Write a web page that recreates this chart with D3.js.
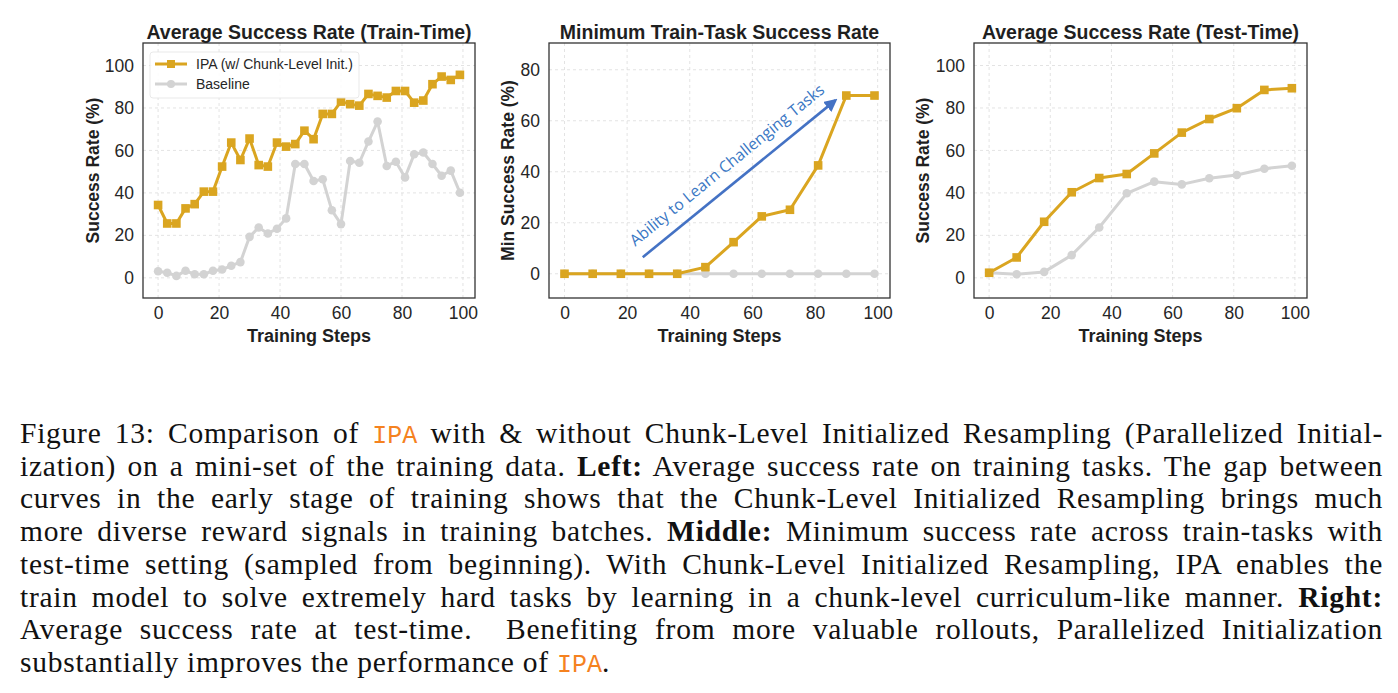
<!DOCTYPE html>
<html>
<head>
<meta charset="utf-8">
<script src="https://cdn.jsdelivr.net/npm/d3@7"></script>
<style>
  body { margin: 0; background: #fff; }
  svg { display: block; }
</style>
</head>
<body>
<svg id="fig" width="1398" height="693"></svg>
<script>
// ---- data ----
var trainSteps = [0, 3, 6, 9, 12, 15, 18, 21, 24, 27, 30, 33, 36, 39, 42, 45, 48, 51,
                  54, 57, 60, 63, 66, 69, 72, 75, 78, 81, 84, 87, 90, 93, 96, 99];
var trainIPA = [34.3, 25.6, 25.6, 32.7, 34.7, 40.6, 40.6, 52.4, 63.7, 55.5, 65.6, 53.1,
                52.4, 63.7, 61.8, 63, 69.3, 65.3, 77.2, 77.2, 83, 81.8, 81.1, 86.6,
                85.7, 84.9, 88, 88, 82.5, 83.5, 91.2, 94.8, 93.2, 95.6];
var trainBase = [3.1, 2.4, 0.9, 3.3, 1.7, 1.7, 3.3, 3.9, 5.7, 7.4, 19.3, 23.7, 20.9,
                 23.1, 28, 53.6, 53.6, 45.6, 46.4, 31.8, 25.3, 55, 54.2, 64.2, 73.6,
                 52.7, 54.7, 47.3, 58.2, 59, 53.6, 48.1, 50.5, 40.1];

var evalSteps = [0, 9, 18, 27, 36, 45, 54, 63, 72, 81, 90, 99];
var minIPA  = [0, 0, 0, 0, 0, 2.6, 12.4, 22.5, 25.1, 42.5, 69.9, 69.9];
var minBase = [0, 0, 0, 0, 0, 0, 0, 0, 0, 0, 0, 0];
var testIPA  = [2.4, 9.6, 26.4, 40.3, 47, 48.9, 58.6, 68.4, 74.8, 79.9, 88.5, 89.3];
var testBase = [2.4, 1.7, 2.8, 10.7, 23.7, 39.8, 45.3, 44, 46.9, 48.4, 51.4, 52.8];

var xTicks = [0, 20, 40, 60, 80, 100];
var yTicksAvg = [0, 20, 40, 60, 80, 100];
var yTicksMin = [0, 20, 40, 60, 80];

var legendLabels = ["IPA (w/ Chunk-Level Init.)", "Baseline"];
var arrowFrom = [25, 6.5], arrowTo = [86.5, 68];
var arrowText = "Ability to Learn Challenging Tasks", arrowTextAt = [53, 41];

const IPA_COLOR = "#DAA520";
const BASE_COLOR = "#D3D3D3";
const FONT = "'Liberation Sans', Arial, sans-serif";

var svg = d3.select("#fig");

var panels = [
  {x0: 143, x1: 475, title: "Average Success Rate (Train-Time)", ylab: "Success Rate (%)", ylabOff: 50,
   ydom: [-9.5, 110.6], yticks: yTicksAvg, steps: trainSteps, ipa: trainIPA, base: trainBase, legend: true},
  {x0: 549, x1: 890, title: "Minimum Train-Task Success Rate", ylab: "Min Success Rate (%)", ylabOff: 41,
   ydom: [-9.5, 90.5], yticks: yTicksMin, steps: evalSteps, ipa: minIPA, base: minBase, arrow: true},
  {x0: 974, x1: 1307, title: "Average Success Rate (Test-Time)", ylab: "Success Rate (%)", ylabOff: 51,
   ydom: [-9.5, 110.6], yticks: yTicksAvg, steps: evalSteps, ipa: testIPA, base: testBase}
];
var plotTop = 43, plotBottom = 298;

svg.append("defs").append("marker")
    .attr("id", "head")
    .attr("viewBox", "0 0 10 10")
    .attr("refX", 8).attr("refY", 5)
    .attr("markerWidth", 5).attr("markerHeight", 5)
    .attr("markerUnits", "strokeWidth")
    .attr("orient", "auto")
  .append("path")
    .attr("d", "M0,0 L10,5 L0,10 Z")
    .attr("fill", "#4472C4");

panels.forEach(function(p) {
  var x = d3.scaleLinear().domain([-4.95, 103.95]).range([p.x0, p.x1]);
  var y = d3.scaleLinear().domain(p.ydom).range([plotBottom, plotTop]);
  var g = svg.append("g");

  // grid
  g.selectAll(".gx").data(xTicks).enter().append("line")
      .attr("x1", d => x(d)).attr("x2", d => x(d))
      .attr("y1", plotTop).attr("y2", plotBottom)
      .attr("stroke", "#dcdcdc").attr("stroke-width", 0.8).attr("stroke-dasharray", "3,3");
  g.selectAll(".gy").data(p.yticks).enter().append("line")
      .attr("x1", p.x0).attr("x2", p.x1)
      .attr("y1", d => y(d)).attr("y2", d => y(d))
      .attr("stroke", "#dcdcdc").attr("stroke-width", 0.8).attr("stroke-dasharray", "3,3");

  // axes (ticks removed, labels only)
  var ax = g.append("g").attr("transform", "translate(0," + plotBottom + ")")
      .call(d3.axisBottom(x).tickValues(xTicks).tickSize(0).tickPadding(9));
  var ay = g.append("g").attr("transform", "translate(" + p.x0 + ",0)")
      .call(d3.axisLeft(y).tickValues(p.yticks).tickSize(0).tickPadding(9));
  [ax, ay].forEach(function(a) {
    a.select(".domain").remove();
    a.selectAll("text").attr("font-family", FONT).attr("font-size", 17.5).attr("fill", "#262626");
  });

  // series
  var base = p.steps.map((s, i) => [s, p.base[i]]);
  var ipa = p.steps.map((s, i) => [s, p.ipa[i]]);
  var line = d3.line().x(d => x(d[0])).y(d => y(d[1]));

  g.append("path").datum(base).attr("d", line)
      .attr("fill", "none").attr("stroke", BASE_COLOR).attr("stroke-width", 3)
      .attr("stroke-linejoin", "round");
  g.selectAll(".bp").data(base).enter().append("circle")
      .attr("cx", d => x(d[0])).attr("cy", d => y(d[1])).attr("r", 4.3)
      .attr("fill", BASE_COLOR);

  g.append("path").datum(ipa).attr("d", line)
      .attr("fill", "none").attr("stroke", IPA_COLOR).attr("stroke-width", 3)
      .attr("stroke-linejoin", "round");
  g.selectAll(".ip").data(ipa).enter().append("rect")
      .attr("x", d => x(d[0]) - 4.3).attr("y", d => y(d[1]) - 4.3)
      .attr("width", 8.6).attr("height", 8.6)
      .attr("fill", IPA_COLOR);

  // frame
  g.append("rect")
      .attr("x", p.x0).attr("y", plotTop)
      .attr("width", p.x1 - p.x0).attr("height", plotBottom - plotTop)
      .attr("fill", "none").attr("stroke", "#333").attr("stroke-width", 1.3);

  // titles
  g.append("text")
      .attr("x", (p.x0 + p.x1) / 2).attr("y", 39)
      .attr("text-anchor", "middle")
      .attr("font-family", FONT).attr("font-weight", "bold").attr("font-size", 19.5)
      .attr("fill", "#1f1f1f").text(p.title);
  g.append("text")
      .attr("x", (p.x0 + p.x1) / 2).attr("y", 342)
      .attr("text-anchor", "middle")
      .attr("font-family", FONT).attr("font-weight", "bold").attr("font-size", 18)
      .attr("fill", "#1f1f1f").text("Training Steps");
  g.append("text")
      .attr("transform", "translate(" + (p.x0 - p.ylabOff) + "," + ((plotTop + plotBottom) / 2) + ") rotate(-90)")
      .attr("text-anchor", "middle").attr("dominant-baseline", "central")
      .attr("font-family", FONT).attr("font-weight", "bold").attr("font-size", 17.5)
      .attr("fill", "#1f1f1f").text(p.ylab);

  if (p.legend) {
    var lg = g.append("g").attr("transform", "translate(" + (p.x0 + 7) + "," + (plotTop + 9) + ")");
    lg.append("rect").attr("width", 209).attr("height", 46).attr("rx", 3)
        .attr("fill", "#fff").attr("fill-opacity", 0.85)
        .attr("stroke", "#e3e3e3").attr("stroke-width", 0.8);
    legendLabels.forEach(function(lab, i) {
      var yy = 12 + i * 20;
      var c = i === 0 ? IPA_COLOR : BASE_COLOR;
      lg.append("line").attr("x1", 5).attr("x2", 37).attr("y1", yy).attr("y2", yy)
          .attr("stroke", c).attr("stroke-width", 3);
      if (i === 0) {
        lg.append("rect").attr("x", 21 - 4).attr("y", yy - 4).attr("width", 8).attr("height", 8).attr("fill", c);
      } else {
        lg.append("circle").attr("cx", 21).attr("cy", yy).attr("r", 4).attr("fill", c);
      }
      lg.append("text").attr("x", 46).attr("y", yy + 5)
          .attr("font-family", FONT).attr("font-size", 14).attr("fill", "#262626").text(lab);
    });
  }

  if (p.arrow) {
    var ax0 = x(arrowFrom[0]), ay0 = y(arrowFrom[1]), ax1 = x(arrowTo[0]), ay1 = y(arrowTo[1]);
    g.append("line")
        .attr("x1", ax0).attr("y1", ay0).attr("x2", ax1).attr("y2", ay1)
        .attr("stroke", "#4472C4").attr("stroke-width", 2.6)
        .attr("marker-end", "url(#head)");
    var ang = Math.atan2(ay1 - ay0, ax1 - ax0) * 180 / Math.PI;
    g.append("text")
        .attr("transform", "translate(" + x(arrowTextAt[0]) + "," + y(arrowTextAt[1]) + ") rotate(" + ang + ")")
        .attr("text-anchor", "middle")
        .attr("font-family", "'Open Sans', sans-serif").attr("font-size", 15.8)
        .attr("fill", "#3A77C4").text(arrowText);
  }
});

// ---- caption ----
var capLines = [
  [["Figure 13: Comparison of ", "r"], ["IPA", "m"], [" with & without Chunk-Level Initialized Resampling (Parallelized Initial-", "r"]],
  [["ization) on a mini-set of the training data. ", "r"], ["Left:", "b"], [" Average success rate on training tasks. The gap between", "r"]],
  [["curves in the early stage of training shows that the Chunk-Level Initialized Resampling brings much", "r"]],
  [["more diverse reward signals in training batches. ", "r"], ["Middle:", "b"], [" Minimum success rate across train-tasks with", "r"]],
  [["test-time setting (sampled from beginning). With Chunk-Level Initialized Resampling, IPA enables the", "r"]],
  [["train model to solve extremely hard tasks by learning in a chunk-level curriculum-like manner. ", "r"], ["Right:", "b"]],
  [["Average success rate at test-time.  Benefiting from more valuable rollouts, Parallelized Initialization", "r"]],
  [["substantially improves the performance of ", "r"], ["IPA", "m"], [".", "r"]]
];
var capLeft = 20, capRight = 1383, capBase = 443, capStep = 32.7;

capLines.forEach(function(segs, li) {
  var t = svg.append("text")
      .attr("x", capLeft).attr("y", capBase + li * capStep)
      .attr("font-family", "'Liberation Serif', 'Times New Roman', serif")
      .attr("font-size", 29.5).attr("fill", "#111")
      .attr("letter-spacing", 0.75)
      .attr("xml:space", "preserve");
  segs.forEach(function(s) {
    var ts = t.append("tspan").text(s[0]);
    if (s[1] === "b") ts.attr("font-weight", "bold");
    if (s[1] === "m") ts.attr("font-family", "'Liberation Mono', monospace").attr("fill", "#F5821F")
        .attr("font-size", 25).attr("letter-spacing", 0);
  });
  if (li < capLines.length - 1) {
    var w = t.node().getComputedTextLength();
    var spaces = segs.map(s => s[0]).join("").split(" ").length - 1;
    t.attr("word-spacing", Math.max(0, (capRight - capLeft - w) / spaces));
  }
});
</script>
</body>
</html>
